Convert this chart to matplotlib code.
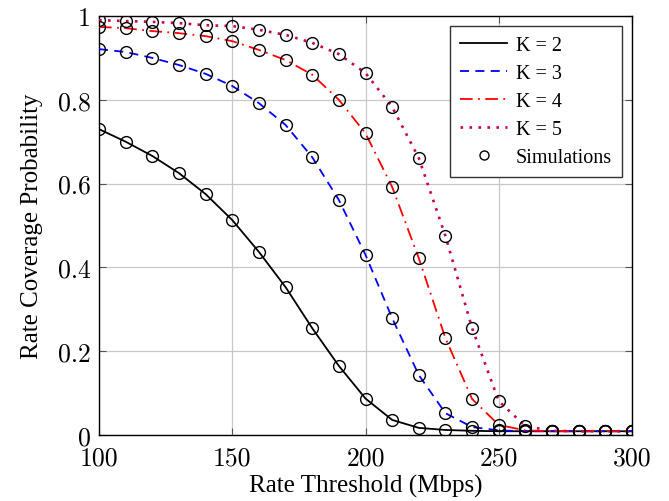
import matplotlib
matplotlib.use("Agg")
import matplotlib.pyplot as plt
from matplotlib.lines import Line2D

# Rate thresholds (Mbps)
rate = [100, 110, 120, 130, 140, 150, 160, 170, 180, 190, 200,
        210, 220, 230, 240, 250, 260, 270, 280, 290, 300]

# Rate coverage probability for K = 2..5
cov_k2 = [0.730, 0.700, 0.666, 0.625, 0.575, 0.513, 0.437, 0.353, 0.255, 0.165, 0.087,
          0.036, 0.017, 0.012, 0.010, 0.009, 0.009, 0.009, 0.009, 0.009, 0.009]
cov_k3 = [0.921, 0.914, 0.900, 0.883, 0.862, 0.833, 0.792, 0.740, 0.663, 0.561, 0.430,
          0.279, 0.143, 0.052, 0.019, 0.011, 0.009, 0.009, 0.009, 0.009, 0.009]
cov_k4 = [0.974, 0.971, 0.964, 0.959, 0.952, 0.940, 0.919, 0.895, 0.860, 0.800, 0.720,
          0.592, 0.422, 0.231, 0.086, 0.024, 0.011, 0.009, 0.009, 0.009, 0.009]
cov_k5 = [0.990, 0.988, 0.986, 0.983, 0.978, 0.976, 0.967, 0.955, 0.936, 0.909, 0.864,
          0.783, 0.661, 0.475, 0.255, 0.081, 0.021, 0.010, 0.009, 0.009, 0.009]

labels = ["K = 2", "K = 3", "K = 4", "K = 5"]
x_ticks = [100, 150, 200, 250, 300]
y_ticks = [0, 0.2, 0.4, 0.6, 0.8, 1]
y_tick_labels = ["0", "0.2", "0.4", "0.6", "0.8", "1"]

serif = ["Liberation Serif", "DejaVu Serif"]
tick_font = ["cmr10", "DejaVu Serif"]

fig = plt.figure(figsize=(6.69, 5.02), dpi=100)
ax = fig.add_axes([99 / 669, 66 / 502, 533 / 669, 419 / 502])

styles = [
    dict(color="black", linestyle="-", linewidth=1.3),
    dict(color="#0000ff", linestyle=(0, (5, 3.5)), linewidth=1.3),
    dict(color="#ff0000", linestyle=(0, (7, 3, 1, 3)), linewidth=1.3),
    dict(color="#c80050", linestyle=(0, (1, 2.4)), linewidth=1.9),
]
series = [cov_k2, cov_k3, cov_k4, cov_k5]

handles = []
for vals, st, lab in zip(series, styles, labels):
    h, = ax.plot(rate, vals, label=lab, zorder=3, **st)
    handles.append(h)

for vals in series:
    ax.plot(rate, vals, linestyle="none", marker="o", markersize=8.5,
            markerfacecolor="none", markeredgecolor="black",
            markeredgewidth=1.0, zorder=4)

sim_handle = Line2D([], [], linestyle="none", marker="o", markersize=6.5,
                    markerfacecolor="none", markeredgecolor="black",
                    markeredgewidth=1.0)
handles.append(sim_handle)

ax.set_xlim(100, 300)
ax.set_ylim(0, 1)
ax.set_xticks(x_ticks)
ax.set_yticks(y_ticks)
ax.set_yticklabels(y_tick_labels)

for lbl in ax.get_xticklabels() + ax.get_yticklabels():
    lbl.set_family(tick_font)
    lbl.set_fontsize(18.5)

ax.tick_params(axis="both", direction="in", length=5, width=0.8,
               color="#555555", top=True, right=True)
ax.tick_params(axis="x", pad=8)
ax.tick_params(axis="y", pad=6)

ax.grid(True, color="#c8c8c8", linewidth=0.9)
ax.set_axisbelow(True)
for sp in ax.spines.values():
    sp.set_linewidth(1.0)
    sp.set_color("black")

ax.set_xlabel("Rate Threshold (Mbps)", family=serif, fontsize=18, labelpad=3)
ax.set_ylabel("Rate Coverage Probability", family=serif, fontsize=18, labelpad=11)

leg = ax.legend(handles, labels + ["Simulations"], loc="upper right",
                prop={"family": serif, "size": 14.5}, fancybox=False,
                framealpha=1, edgecolor="#333333", borderaxespad=0.5,
                handlelength=2.3, handletextpad=0.45, labelspacing=0.44,
                borderpad=0.5, numpoints=1)
leg.get_frame().set_linewidth(1.0)

fig.savefig("out.png", dpi=100)
